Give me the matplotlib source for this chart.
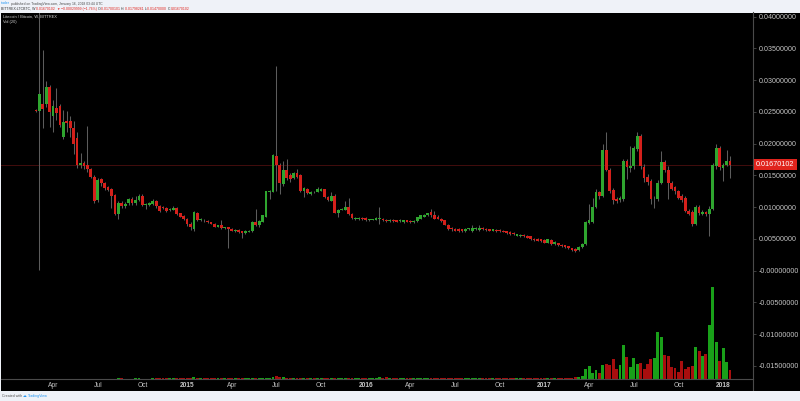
import matplotlib
matplotlib.use('Agg')
import matplotlib.pyplot as plt
import pandas as pd

# weekly LTC/BTC candles, Bittrex, 2014-03-03 .. 2018-01-15
dates = pd.date_range('2014-03-03', periods=203, freq='7D')

opens = [
    0.0253, 0.0252, 0.0263, 0.0262, 0.0289, 0.0244, 0.0256, 0.0259, 0.0210, 0.0236,
    0.0236, 0.0225, 0.0209, 0.0167, 0.0170, 0.0166, 0.0160, 0.0148, 0.0111, 0.0144,
    0.0138, 0.0131, 0.0128, 0.0119, 0.0089, 0.0107, 0.0102, 0.0106, 0.0113, 0.0106,
    0.0111, 0.0118, 0.0103, 0.0103, 0.0105, 0.0109, 0.0101, 0.0100, 0.0098, 0.0095,
    0.0096, 0.0098, 0.0090, 0.0086, 0.0081, 0.0074, 0.0066, 0.0091, 0.0080, 0.0080,
    0.0078, 0.0076, 0.0073, 0.0069, 0.0072, 0.0067, 0.0068, 0.0066, 0.0062, 0.0064,
    0.0062, 0.0059, 0.0061, 0.0062, 0.0077, 0.0071, 0.0077, 0.0085, 0.0124, 0.0124,
    0.0181, 0.0167, 0.0136, 0.0159, 0.0150, 0.0146, 0.0154, 0.0150, 0.0125, 0.0128,
    0.0121, 0.0124, 0.0124, 0.0126, 0.0128, 0.0116, 0.0110, 0.0118, 0.0091, 0.0096,
    0.0096, 0.0100, 0.0089, 0.0081, 0.0081, 0.0083, 0.0083, 0.0079, 0.0080, 0.0080,
    0.0082, 0.0082, 0.0080, 0.0078, 0.0080, 0.0079, 0.0078, 0.0077, 0.0079, 0.0078,
    0.0076, 0.0078, 0.0082, 0.0085, 0.0087, 0.0092, 0.0088, 0.0085, 0.0082, 0.0079,
    0.0072, 0.0067, 0.0066, 0.0066, 0.0065, 0.0062, 0.0065, 0.0062, 0.0065, 0.0064,
    0.0067, 0.0066, 0.0065, 0.0063, 0.0064, 0.0064, 0.0063, 0.0062, 0.0061, 0.0059,
    0.0055, 0.0054, 0.0056, 0.0055, 0.0054, 0.0050, 0.0050, 0.0049, 0.0048, 0.0044,
    0.0048, 0.0042, 0.0043, 0.0041, 0.0040, 0.0038, 0.0035, 0.0034, 0.0032, 0.0037,
    0.0042, 0.0075, 0.0076, 0.0100, 0.0123, 0.0118, 0.0190, 0.0159, 0.0127, 0.0112,
    0.0111, 0.0112, 0.0172, 0.0162, 0.0165, 0.0192, 0.0212, 0.0163, 0.0147, 0.0141,
    0.0112, 0.0112, 0.0138, 0.0171, 0.0158, 0.0138, 0.0131, 0.0125, 0.0117, 0.0115,
    0.0094, 0.0093, 0.0073, 0.0100, 0.0089, 0.0092, 0.0089, 0.0097, 0.0165, 0.0193,
    0.0162, 0.0167, 0.0173,
]
highs = [
    0.0254, 0.0420, 0.0348, 0.0298, 0.0292, 0.0269, 0.0287, 0.0262, 0.0253, 0.0251,
    0.0244, 0.0235, 0.0219, 0.0185, 0.0172, 0.0228, 0.0162, 0.0150, 0.0146, 0.0146,
    0.0140, 0.0133, 0.0130, 0.0120, 0.0110, 0.0109, 0.0108, 0.0115, 0.0116, 0.0118,
    0.0121, 0.0120, 0.0107, 0.0108, 0.0112, 0.0111, 0.0104, 0.0102, 0.0100, 0.0099,
    0.0102, 0.0100, 0.0091, 0.0088, 0.0083, 0.0076, 0.0094, 0.0093, 0.0083, 0.0082,
    0.0080, 0.0077, 0.0075, 0.0072, 0.0079, 0.0069, 0.0069, 0.0067, 0.0065, 0.0065,
    0.0063, 0.0064, 0.0064, 0.0078, 0.0097, 0.0079, 0.0088, 0.0126, 0.0127, 0.0183,
    0.0323, 0.0170, 0.0172, 0.0175, 0.0153, 0.0156, 0.0160, 0.0152, 0.0131, 0.0130,
    0.0125, 0.0126, 0.0132, 0.0130, 0.0129, 0.0118, 0.0124, 0.0120, 0.0097, 0.0098,
    0.0110, 0.0114, 0.0090, 0.0084, 0.0084, 0.0084, 0.0084, 0.0082, 0.0082, 0.0084,
    0.0100, 0.0083, 0.0081, 0.0081, 0.0081, 0.0080, 0.0081, 0.0079, 0.0080, 0.0079,
    0.0079, 0.0085, 0.0087, 0.0089, 0.0091, 0.0097, 0.0094, 0.0087, 0.0083, 0.0080,
    0.0074, 0.0069, 0.0067, 0.0067, 0.0066, 0.0067, 0.0067, 0.0071, 0.0068, 0.0071,
    0.0068, 0.0067, 0.0066, 0.0066, 0.0065, 0.0065, 0.0064, 0.0063, 0.0062, 0.0060,
    0.0058, 0.0057, 0.0057, 0.0056, 0.0055, 0.0051, 0.0051, 0.0050, 0.0049, 0.0050,
    0.0049, 0.0046, 0.0044, 0.0042, 0.0041, 0.0039, 0.0036, 0.0035, 0.0038, 0.0044,
    0.0078, 0.0105, 0.0115, 0.0129, 0.0126, 0.0200, 0.0219, 0.0162, 0.0130, 0.0116,
    0.0118, 0.0175, 0.0176, 0.0196, 0.0197, 0.0219, 0.0215, 0.0168, 0.0152, 0.0145,
    0.0118, 0.0142, 0.0188, 0.0174, 0.0165, 0.0141, 0.0133, 0.0127, 0.0120, 0.0117,
    0.0097, 0.0095, 0.0104, 0.0103, 0.0096, 0.0094, 0.0101, 0.0170, 0.0200, 0.0197,
    0.0170, 0.0190, 0.0180,
]
lows = [
    0.0250, 0.0001, 0.0224, 0.0258, 0.0226, 0.0219, 0.0237, 0.0226, 0.0208, 0.0218,
    0.0211, 0.0183, 0.0162, 0.0162, 0.0160, 0.0156, 0.0146, 0.0106, 0.0108, 0.0134,
    0.0127, 0.0125, 0.0098, 0.0087, 0.0081, 0.0099, 0.0099, 0.0104, 0.0104, 0.0104,
    0.0109, 0.0101, 0.0097, 0.0101, 0.0103, 0.0099, 0.0092, 0.0097, 0.0093, 0.0094,
    0.0095, 0.0088, 0.0084, 0.0079, 0.0070, 0.0064, 0.0063, 0.0078, 0.0078, 0.0077,
    0.0075, 0.0073, 0.0068, 0.0068, 0.0066, 0.0066, 0.0036, 0.0062, 0.0061, 0.0059,
    0.0052, 0.0058, 0.0060, 0.0061, 0.0070, 0.0069, 0.0076, 0.0084, 0.0112, 0.0123,
    0.0125, 0.0120, 0.0133, 0.0143, 0.0139, 0.0144, 0.0146, 0.0123, 0.0116, 0.0120,
    0.0119, 0.0122, 0.0123, 0.0125, 0.0115, 0.0109, 0.0109, 0.0090, 0.0085, 0.0095,
    0.0095, 0.0088, 0.0082, 0.0080, 0.0080, 0.0080, 0.0078, 0.0078, 0.0079, 0.0079,
    0.0073, 0.0078, 0.0077, 0.0077, 0.0077, 0.0076, 0.0077, 0.0075, 0.0076, 0.0075,
    0.0075, 0.0077, 0.0081, 0.0084, 0.0086, 0.0085, 0.0081, 0.0081, 0.0076, 0.0071,
    0.0064, 0.0063, 0.0062, 0.0061, 0.0061, 0.0061, 0.0064, 0.0061, 0.0064, 0.0063,
    0.0064, 0.0063, 0.0062, 0.0062, 0.0061, 0.0061, 0.0060, 0.0058, 0.0056, 0.0056,
    0.0054, 0.0053, 0.0053, 0.0051, 0.0048, 0.0047, 0.0046, 0.0045, 0.0043, 0.0043,
    0.0041, 0.0041, 0.0039, 0.0037, 0.0036, 0.0034, 0.0031, 0.0030, 0.0031, 0.0036,
    0.0041, 0.0073, 0.0075, 0.0098, 0.0112, 0.0116, 0.0157, 0.0122, 0.0105, 0.0106,
    0.0108, 0.0110, 0.0144, 0.0155, 0.0160, 0.0188, 0.0160, 0.0140, 0.0135, 0.0105,
    0.0098, 0.0110, 0.0136, 0.0155, 0.0113, 0.0127, 0.0121, 0.0112, 0.0108, 0.0092,
    0.0087, 0.0070, 0.0071, 0.0088, 0.0087, 0.0086, 0.0054, 0.0095, 0.0160, 0.0158,
    0.0141, 0.0164, 0.0146,
]
closes = [
    0.0252, 0.0278, 0.0255, 0.0289, 0.0250, 0.0259, 0.0249, 0.0230, 0.0234, 0.0233,
    0.0225, 0.0200, 0.0167, 0.0170, 0.0165, 0.0160, 0.0148, 0.0110, 0.0143, 0.0138,
    0.0130, 0.0127, 0.0118, 0.0089, 0.0107, 0.0102, 0.0105, 0.0113, 0.0106, 0.0111,
    0.0118, 0.0103, 0.0105, 0.0106, 0.0110, 0.0101, 0.0094, 0.0099, 0.0094, 0.0097,
    0.0099, 0.0089, 0.0085, 0.0081, 0.0074, 0.0068, 0.0092, 0.0080, 0.0081, 0.0079,
    0.0076, 0.0074, 0.0069, 0.0071, 0.0067, 0.0068, 0.0065, 0.0063, 0.0064, 0.0060,
    0.0059, 0.0063, 0.0063, 0.0077, 0.0071, 0.0078, 0.0087, 0.0125, 0.0126, 0.0182,
    0.0167, 0.0138, 0.0159, 0.0146, 0.0145, 0.0154, 0.0147, 0.0125, 0.0130, 0.0122,
    0.0124, 0.0123, 0.0128, 0.0128, 0.0116, 0.0111, 0.0118, 0.0091, 0.0096, 0.0097,
    0.0100, 0.0089, 0.0083, 0.0083, 0.0083, 0.0081, 0.0079, 0.0081, 0.0081, 0.0083,
    0.0083, 0.0079, 0.0078, 0.0080, 0.0078, 0.0077, 0.0080, 0.0079, 0.0077, 0.0076,
    0.0078, 0.0084, 0.0087, 0.0088, 0.0090, 0.0087, 0.0082, 0.0082, 0.0078, 0.0072,
    0.0066, 0.0065, 0.0063, 0.0063, 0.0063, 0.0066, 0.0066, 0.0067, 0.0067, 0.0067,
    0.0065, 0.0064, 0.0063, 0.0065, 0.0062, 0.0062, 0.0061, 0.0059, 0.0057, 0.0057,
    0.0057, 0.0056, 0.0054, 0.0052, 0.0049, 0.0048, 0.0047, 0.0046, 0.0044, 0.0049,
    0.0042, 0.0045, 0.0040, 0.0038, 0.0037, 0.0035, 0.0032, 0.0031, 0.0037, 0.0042,
    0.0076, 0.0079, 0.0100, 0.0123, 0.0118, 0.0190, 0.0159, 0.0126, 0.0111, 0.0110,
    0.0115, 0.0172, 0.0163, 0.0165, 0.0193, 0.0212, 0.0165, 0.0146, 0.0140, 0.0112,
    0.0113, 0.0138, 0.0171, 0.0159, 0.0138, 0.0129, 0.0125, 0.0115, 0.0111, 0.0094,
    0.0089, 0.0073, 0.0100, 0.0090, 0.0093, 0.0089, 0.0097, 0.0166, 0.0193, 0.0163,
    0.0167, 0.0173, 0.0167,
]
volumes = [
    6, 12, 9, 8, 7, 6, 6, 5, 6, 5,
    5, 6, 8, 7, 6, 8, 7, 10, 9, 7,
    9, 8, 12, 14, 18, 15, 12, 14, 13, 15,
    16, 14, 12, 13, 15, 18, 20, 16, 17, 15,
    18, 22, 25, 28, 35, 40, 45, 38, 30, 25,
    22, 20, 24, 18, 22, 20, 30, 24, 22, 25,
    28, 22, 20, 24, 30, 26, 28, 40, 35, 50,
    95, 55, 45, 38, 30, 32, 28, 35, 28, 25,
    22, 20, 24, 22, 26, 24, 28, 35, 25, 22,
    24, 30, 26, 22, 20, 18, 20, 22, 24, 26,
    45, 40, 55, 35, 28, 25, 22, 24, 20, 22,
    24, 30, 28, 32, 35, 38, 34, 30, 28, 32,
    30, 26, 24, 22, 20, 22, 24, 26, 22, 24,
    22, 20, 22, 24, 22, 24, 26, 28, 26, 24,
    26, 28, 30, 32, 28, 30, 34, 30, 32, 28,
    30, 28, 26, 30, 32, 28, 20, 50, 70, 90,
    300, 390, 190, 270, 190, 420, 440, 420, 600, 300,
    420, 1020, 650, 350, 620, 440, 470, 300, 440, 610,
    640, 1400, 1250, 720, 690, 370, 340, 220, 550, 300,
    350, 390, 950, 840, 700, 760, 1620, 2740, 1120, 540,
    920, 520, 270,
]
last_price = 0.01670102
price_ticks = [-0.015, -0.01, -0.005, 0.0, 0.005, 0.01, 0.015, 0.02, 0.025, 0.03, 0.035, 0.04]
price_labels = ['-0.01500000', '-0.01000000', '-0.00500000', '-0.00000000', '0.00500000',
                '0.01000000', '0.01500000', '0.02000000', '0.02500000', '0.03000000',
                '0.03500000', '0.04000000']

UP = '#2fa52f'
DOWN = '#d4201b'
VUP = '#19a019'
VDOWN = '#a80e0e'
TXT = '#c4c4c4'

W, H = 800, 401
plt.rcParams['font.family'] = ['Liberation Sans', 'DejaVu Sans']

fig = plt.figure(figsize=(W / 100, H / 100), dpi=100, facecolor='#eff2f8')


def box(x0, y0, x1, y1):
    return [x0 / W, 1 - y1 / H, (x1 - x0) / W, (y1 - y0) / H]


# black background (incl. price scale and time scale)
bg = fig.add_axes(box(1, 12.5, 800, 390.5), zorder=0)
bg.set_facecolor('black')
bg.set_xlim(1, 800)
bg.set_ylim(390.5, 12.5)
bg.set_xticks([])
bg.set_yticks([])
for s in bg.spines.values():
    s.set_visible(False)
bg.plot([753, 753], [379, 390.5], color='#4a4a4a', lw=0.8)

idx = list(range(len(dates)))
n_left = -10.15
n_right = 208.7

# volume pane
axv = fig.add_axes(box(1, 12.5, 753, 379), zorder=1)
axv.set_facecolor('none')
vol_colors = [VUP if c >= o else VDOWN for o, c in zip(opens, closes)]
axv.bar(idx, volumes, width=0.85, color=vol_colors, linewidth=0)
axv.set_xlim(n_left, n_right)
axv.set_ylim(0, max(volumes) * 4.0)
axv.axis('off')

# candles
ax = fig.add_axes(box(1, 12.5, 753, 379), zorder=2)
ax.set_facecolor('none')
ax.vlines(idx, lows, highs, color='#5c5c5c', linewidth=0.75, zorder=2)
body_low = [min(o, c) for o, c in zip(opens, closes)]
body_h = [max(abs(c - o), 0.00013) for o, c in zip(opens, closes)]
cols = [UP if c >= o else DOWN for o, c in zip(opens, closes)]
ax.bar(idx, body_h, bottom=body_low, width=0.8, color=cols, linewidth=0, zorder=3)

ax.set_xlim(n_left, n_right)
ax.set_ylim(-0.01709, 0.04066)

# last price line + label
ax.axhline(last_price, color='#9a1d1d', linestyle=(0, (1.2, 1.2)), linewidth=0.6, zorder=1)
ax.text(1.004, last_price, '0.01670102', transform=ax.get_yaxis_transform(),
        ha='left', va='center', fontsize=5.2, color='white', clip_on=False, zorder=5,
        bbox=dict(boxstyle='square,pad=0.3', fc='#e0241d', ec='none'))

# price scale
ax.yaxis.tick_right()
ax.set_yticks(price_ticks)
ax.set_yticklabels(price_labels)
ax.tick_params(axis='y', length=2.5, width=0.6, color='#4a4a4a', labelcolor=TXT,
               labelsize=5.1, pad=1.5)

# time scale
tick_idx = [i for i in range(1, len(dates))
            if dates[i].month != dates[i - 1].month and dates[i].month in (1, 4, 7, 10)]
ax.set_xticks(tick_idx)
ax.set_xticklabels([str(dates[i].year) if dates[i].month == 1 else dates[i].strftime('%b')
                    for i in tick_idx])
for i, lab in zip(tick_idx, ax.get_xticklabels()):
    if dates[i].month == 1:
        lab.set_fontweight('bold')
ax.tick_params(axis='x', length=0, labelcolor=TXT, labelsize=4.8, pad=2.2)

for side in ['top', 'left']:
    ax.spines[side].set_visible(False)
for side in ['right', 'bottom']:
    ax.spines[side].set_color('#4a4a4a')
    ax.spines[side].set_linewidth(0.8)

# legend inside chart
fig.text(3 / W, 1 - 16.5 / H, 'Litecoin / Bitcoin, W, BITTREX', fontsize=2.9, color='#d0d0d0',
         va='center', ha='left')
fig.text(3 / W, 1 - 21.5 / H, 'Vol (20)', fontsize=2.9, color='#d0d0d0', va='center', ha='left')

renderer = fig.canvas.get_renderer()


def put_row(pieces, x, y, size):
    for s, c in pieces:
        t = fig.text(x / W, 1 - y / H, s, color=c, fontsize=size, va='center', ha='left')
        x += t.get_window_extent(renderer).width


put_row([('trader', '#2196f3'),
         (' published on TradingView.com, January 16, 2018 03:44 UTC', '#4a4a4a')],
        1, 3.5, 2.4)
put_row([('BITTREX:LTCBTC, W ', '#333333'),
         ('0.01670102 ', '#e0241d'),
         ('\u25bc', '#e0241d'),
         (' \u22120.00029999 (\u22121.76%) ', '#e0241d'),
         ('O:', '#333333'), ('0.01700101 ', '#e0241d'),
         ('H:', '#333333'), ('0.01798261 ', '#e0241d'),
         ('L:', '#333333'), ('0.01470000 ', '#e0241d'),
         ('C:', '#333333'), ('0.01670102', '#e0241d')],
        1, 9, 2.5)
put_row([('Created with ', '#555555'), ('\u2601 ', '#2196f3'), ('TradingView', '#2196f3')],
        2, 396, 2.6)

fig.savefig('out.png', dpi=100, facecolor=fig.get_facecolor())
